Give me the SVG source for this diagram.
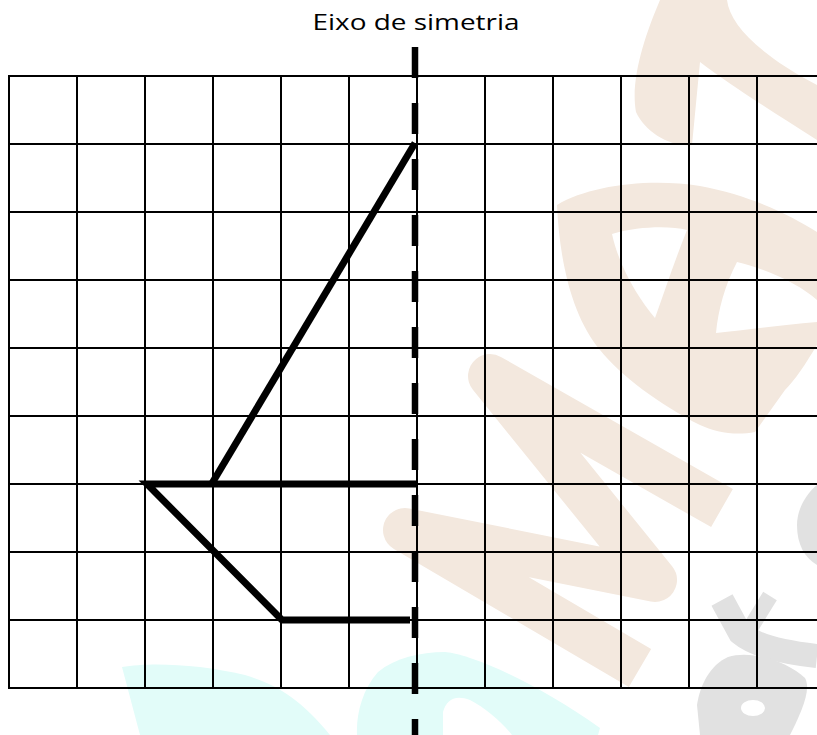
<svg xmlns="http://www.w3.org/2000/svg" width="817" height="735" viewBox="0 0 817 735">
<style>
.wo{fill:#F3E8DE;stroke:none}
.wc{fill:#E2FCF9;stroke:none}
.wg{fill:#E1E1E1;stroke:none}
.hole{fill:#FFFFFF;stroke:none}
.grid line{stroke:#000;stroke-width:2}
.fig{fill:none;stroke:#000;stroke-width:7;stroke-linecap:butt;stroke-linejoin:miter}
</style>
<rect x="0" y="0" width="817" height="735" fill="#FFFFFF"/>
<g id="watermark">
  <path class="wo" d="M660,0 L727,0 C730,25 760,55 817,85 L817,140 C770,110 730,85 700,62 L692,145 C670,147 645,132 636,112 C630,80 645,35 660,0 Z"/>
  <path class="wo" d="M557,205 C590,185 650,178 700,186 C750,195 790,215 817,232 L817,345 C805,365 795,380 785,390 L755,432 C735,436 715,432 700,425 C660,405 620,375 600,350 C575,320 560,270 557,205 Z"/>
  <path class="hole" d="M612,234 C640,226 670,226 687,230 C675,260 665,290 655,318 C640,300 620,270 612,234 Z"/>
  <path class="hole" d="M737,262 C770,270 800,285 817,300 L817,322 C780,325 745,330 716,333 C718,310 725,285 737,262 Z"/>
  <polyline class="wo" points="640,668 405,530 655,580 490,376 722,508" style="fill:none;stroke:#F3E8DE;stroke-width:44;stroke-linejoin:round"/>
  <path class="wc" d="M122,667 C150,662 200,664 245,675 C275,684 300,698 330,735 L140,735 Z"/>
  <path class="wc" d="M357,735 C356,715 362,690 378,672 C395,658 420,652 445,652 C475,655 540,685 600,728 L598,735 Z"/>
  <path class="hole" d="M443,735 L443,712 C446,700 455,694 470,700 C485,708 500,720 512,735 Z"/>
  <path class="wg" d="M817,485 C805,495 797,510 797,525 C797,545 805,558 817,565 Z"/>
  <path d="M722,600 L740,633 Q760,650 817,656" fill="none" stroke="#E1E1E1" stroke-width="24"/>
  <path d="M743,640 L770,596" fill="none" stroke="#E1E1E1" stroke-width="16"/>
  <path class="wg" d="M697,705 C700,685 710,665 728,657 C750,650 785,660 805,678 C812,690 800,715 790,735 L700,735 Z"/>
  <ellipse class="hole" cx="753" cy="708" rx="12" ry="8"/>
</g>
<g id="grid" class="grid">
  <line x1="8" y1="76" x2="817" y2="76"/>
  <line x1="8" y1="144" x2="817" y2="144"/>
  <line x1="8" y1="212" x2="817" y2="212"/>
  <line x1="8" y1="280" x2="817" y2="280"/>
  <line x1="8" y1="348" x2="817" y2="348"/>
  <line x1="8" y1="416" x2="817" y2="416"/>
  <line x1="8" y1="484" x2="817" y2="484"/>
  <line x1="8" y1="552" x2="817" y2="552"/>
  <line x1="8" y1="620" x2="817" y2="620"/>
  <line x1="8" y1="688" x2="817" y2="688"/>
  <line x1="9" y1="75" x2="9" y2="689"/>
  <line x1="77" y1="75" x2="77" y2="689"/>
  <line x1="145" y1="75" x2="145" y2="689"/>
  <line x1="213" y1="75" x2="213" y2="689"/>
  <line x1="281" y1="75" x2="281" y2="689"/>
  <line x1="349" y1="75" x2="349" y2="689"/>
  <line x1="417" y1="75" x2="417" y2="689"/>
  <line x1="485" y1="75" x2="485" y2="689"/>
  <line x1="553" y1="75" x2="553" y2="689"/>
  <line x1="621" y1="75" x2="621" y2="689"/>
  <line x1="689" y1="75" x2="689" y2="689"/>
  <line x1="757" y1="75" x2="757" y2="689"/>
</g>
<g id="axis">
  <line x1="415" y1="47" x2="415" y2="735" stroke="#000" stroke-width="6.5" stroke-dasharray="31 25"/>
</g>
<g id="figure">
  <line class="fig" x1="415" y1="143" x2="211" y2="485"/>
  <polyline class="fig" points="417,484 147,484 282,620 410,620"/>
</g>
<g id="label">
  <text x="416" y="29.5" text-anchor="middle" font-family="'Open Sans', 'Noto Sans', sans-serif" font-size="21.5" fill="#000" textLength="207" lengthAdjust="spacingAndGlyphs">Eixo de simetria</text>
</g>
</svg>
